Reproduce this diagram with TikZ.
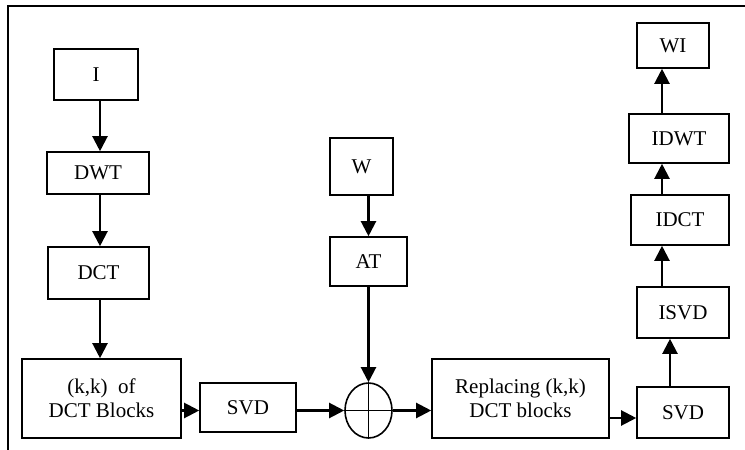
\documentclass[tikz,border=0pt]{standalone}
\usepackage{fontspec}
\setmainfont{Liberation Serif}
\usetikzlibrary{arrows.meta,shapes.geometric}
\begin{document}
\begin{tikzpicture}[x=1pt,y=-1pt,
  box/.style={draw,line width=1.6pt,inner sep=0pt,align=center,font=\fontsize{21}{24}\selectfont},
  arr/.style={line width=2.2pt,-{Triangle[length=15pt,width=15pt]}},
  frame/.style={line width=1.6pt}]
\useasboundingbox (0,0) rectangle (745,450);
\draw[frame] (8,450) -- (8,6) -- (745,6);
\node[box,minimum width=84pt,minimum height=51pt] (I) at (96,74.5) {I};
\node[box,minimum width=102pt,minimum height=42pt] (DWT) at (98,173) {DWT};
\node[box,minimum width=101pt,minimum height=52pt] (DCT) at (98.5,273) {DCT};
\node[box,minimum width=159pt,minimum height=79pt] (KK) at (101.5,398.5) {(k,k)\ \ of\\DCT Blocks};
\node[box,minimum width=96pt,minimum height=49pt] (SVDa) at (248,407.5) {SVD};
\node[draw,ellipse,line width=1.6pt,minimum width=47pt,minimum height=55pt,inner sep=0pt] (sum) at (368.5,410.5) {};
\node[box,minimum width=63pt,minimum height=57pt] (W) at (361.5,166.5) {W};
\node[box,minimum width=77pt,minimum height=49pt] (AT) at (368.5,261.5) {AT};
\node[box,minimum width=177pt,minimum height=79pt] (Rep) at (520.5,398.5) {Replacing (k,k)\\DCT blocks};
\node[box,minimum width=92pt,minimum height=51pt] (SVDb) at (683,412.5) {SVD};
\node[box,minimum width=92pt,minimum height=51pt] (ISVD) at (683,312.5) {ISVD};
\node[box,minimum width=98pt,minimum height=50pt] (IDCT) at (680,220) {IDCT};
\node[box,minimum width=100pt,minimum height=49pt] (IDWT) at (679,138.5) {IDWT};
\node[box,minimum width=72pt,minimum height=45pt] (WI) at (673,45.5) {WI};
\draw[line width=1.6pt] (sum.north) -- (sum.south) (sum.west) -- (sum.east);
\coordinate (cl) at (100,0);
\coordinate (cr) at (662,0);
\coordinate (cs) at (670,0);
\coordinate (rs) at (0,418);
\draw[arr] (I.south -| cl) -- (DWT.north -| cl);
\draw[arr] (DWT.south -| cl) -- (DCT.north -| cl);
\draw[arr] (DCT.south -| cl) -- (KK.north -| cl);
\draw[arr] (KK.east |- sum) -- (SVDa.west |- sum);
\draw[arr] (SVDa.east |- sum) -- (sum.west);
\draw[arr] (W.south -| sum) -- (AT.north -| sum);
\draw[arr] (AT.south -| sum) -- (sum.north);
\draw[arr] (sum.east) -- (Rep.west |- sum);
\draw[arr] (Rep.east |- rs) -- (SVDb.west |- rs);
\draw[arr] (SVDb.north -| cs) -- (ISVD.south -| cs);
\draw[arr] (ISVD.north -| cr) -- (IDCT.south -| cr);
\draw[arr] (IDCT.north -| cr) -- (IDWT.south -| cr);
\draw[arr] (IDWT.north -| cr) -- (WI.south -| cr);
\end{tikzpicture}
\end{document}
